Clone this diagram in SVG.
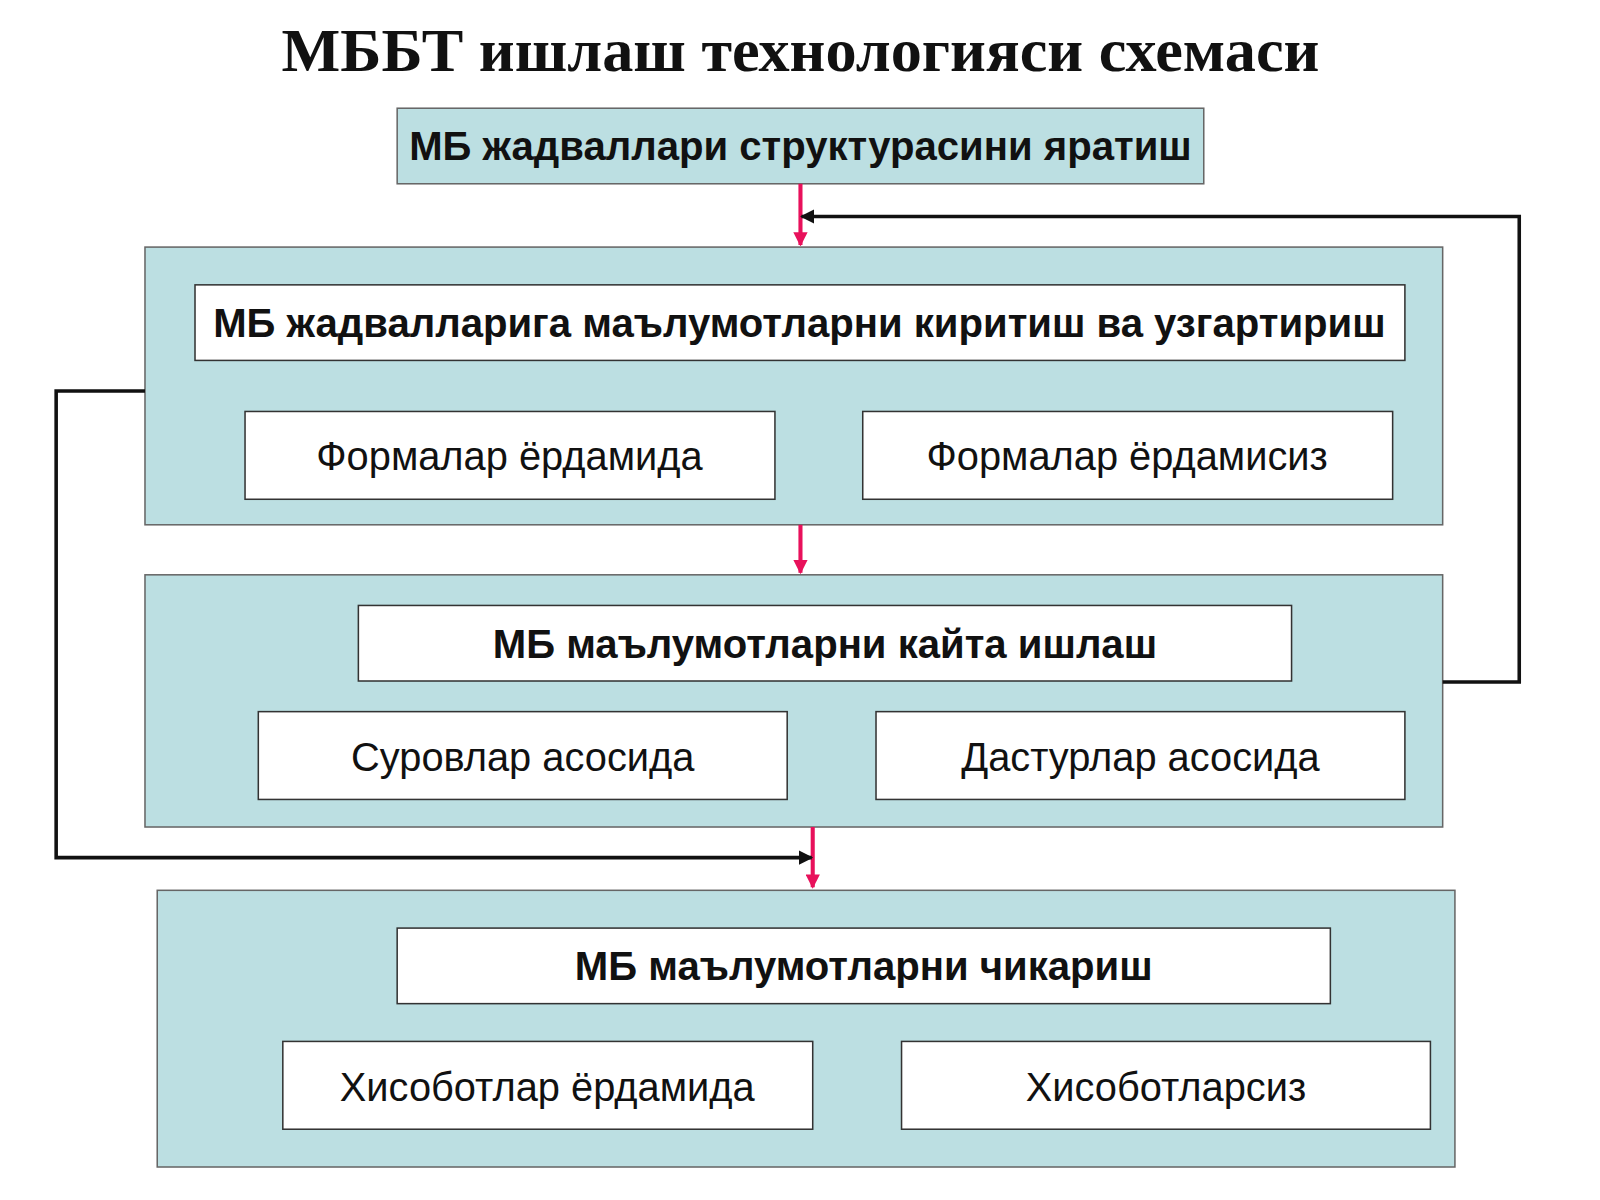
<svg xmlns="http://www.w3.org/2000/svg" width="1600" height="1200" viewBox="0 0 1600 1200">
<defs>
<style>
.panel{fill:#bcdfe2;stroke:#666;stroke-width:1.5}
.box{fill:#fff;stroke:#333;stroke-width:1.5}
.hd{font-family:"Liberation Sans",Arial,sans-serif;font-weight:bold;font-size:39.3px;fill:#111;text-anchor:middle}
.tx{font-family:"Liberation Sans",Arial,sans-serif;font-size:39px;fill:#111;text-anchor:middle}
.red{stroke:#e8115b;stroke-width:4;fill:none}
.blk{stroke:#111;stroke-width:3.5;fill:none}
</style>
<marker id="ar" viewBox="0 0 10 10" refX="9" refY="5" markerWidth="3.5" markerHeight="3.5" orient="auto"><path d="M0,0L10,5L0,10z" fill="#e8115b"/></marker>
<marker id="ab" viewBox="0 0 10 10" refX="9" refY="5" markerWidth="4" markerHeight="4" orient="auto"><path d="M0,0L10,5L0,10z" fill="#111"/></marker>
</defs>
<g transform="scale(1.021)">
<text x="784" y="70" font-family="Liberation Serif,serif" font-weight="bold" font-size="61" text-anchor="middle" fill="#111">МББТ ишлаш технологияси схемаси</text>
<g id="n1"><rect class="panel" x="389" y="106" width="790" height="74"/><text class="hd" x="784" y="157">МБ жадваллари структурасини яратиш</text></g>
<g id="n2"><rect class="panel" x="142" y="242" width="1271" height="272"/>
<rect class="box" x="191" y="279" width="1185" height="74"/><text class="hd" x="783" y="330">МБ жадвалларига маълумотларни киритиш ва узгартириш</text>
<rect class="box" x="240" y="403" width="519" height="86"/><text class="tx" x="499" y="460">Формалар ёрдамида</text>
<rect class="box" x="845" y="403" width="519" height="86"/><text class="tx" x="1104" y="460">Формалар ёрдамисиз</text></g>
<g id="n3"><rect class="panel" x="142" y="563" width="1271" height="247"/>
<rect class="box" x="351" y="593" width="914" height="74"/><text class="hd" x="808" y="644">МБ маълумотларни кайта ишлаш</text>
<rect class="box" x="253" y="697" width="518" height="86"/><text class="tx" x="512" y="755">Суровлар асосида</text>
<rect class="box" x="858" y="697" width="518" height="86"/><text class="tx" x="1117" y="755">Дастурлар асосида</text></g>
<g id="n4"><rect class="panel" x="154" y="872" width="1271" height="271"/>
<rect class="box" x="389" y="909" width="914" height="74"/><text class="hd" x="846" y="960">МБ маълумотларни чикариш</text>
<rect class="box" x="277" y="1020" width="519" height="86"/><text class="tx" x="536" y="1078">Хисоботлар ёрдамида</text>
<rect class="box" x="883" y="1020" width="518" height="86"/><text class="tx" x="1142" y="1078">Хисоботларсиз</text></g>
<g id="connectors">
<path class="red" d="M784,180V240" marker-end="url(#ar)"/>
<path class="red" d="M784,514V561" marker-end="url(#ar)"/>
<path class="red" d="M796,810V869" marker-end="url(#ar)"/>
<path class="blk" d="M142,383H55V840H795" marker-end="url(#ab)"/>
<path class="blk" d="M1413,668H1488V212H785" marker-end="url(#ab)"/>
</g>
</g>
</svg>
